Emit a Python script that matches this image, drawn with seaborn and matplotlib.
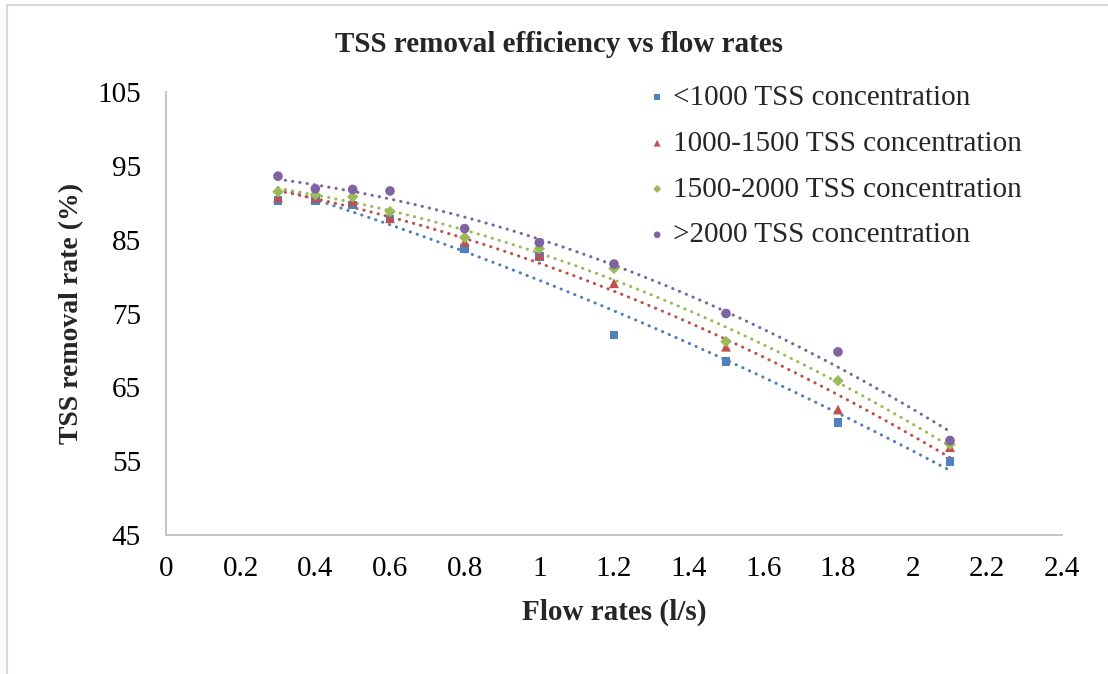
import numpy as np
import pandas as pd
import seaborn as sns
import matplotlib.pyplot as plt
from matplotlib.patches import Rectangle

# flow rate (l/s) and removal rate (%) per TSS concentration group
flow = [0.3, 0.4, 0.5, 0.6, 0.8, 1.0, 1.2, 1.5, 1.8, 2.1]
lt1000 = [90.3, 90.3, 89.7, 87.8, 83.8, 82.7, 72.1, 68.5, 60.2, 55.0]
c1000_1500 = [90.7, 90.7, 90.2, 87.9, 84.7, 82.9, 79.1, 70.5, 62.0, 56.9]
c1500_2000 = [91.5, 91.1, 90.8, 88.8, 85.3, 83.8, 81.1, 71.2, 65.9, 57.3]
gt2000 = [93.6, 91.9, 91.8, 91.6, 86.5, 84.6, 81.7, 75.0, 69.8, 57.8]

names = ["<1000 TSS concentration", "1000-1500 TSS concentration",
         "1500-2000 TSS concentration", ">2000 TSS concentration"]
series = [lt1000, c1000_1500, c1500_2000, gt2000]
colors = ["#4F81BD", "#C0504D", "#9BBB59", "#8064A2"]
markers = ["s", "^", "D", "o"]
sizes = [40, 50, 34, 48]

rows = []
for name, vals in zip(names, series):
    for f, v in zip(flow, vals):
        rows.append({"flow": f, "rate": v, "group": name})
df = pd.DataFrame(rows)

# 2nd order polynomial trendlines (like Excel)
trend_rows = []
xs = np.linspace(0.3, 2.1, 100)
for name, vals in zip(names, series):
    p = np.polyfit(flow, vals, 2)
    for xv in xs:
        trend_rows.append({"flow": xv, "rate": np.polyval(p, xv), "group": name})
trend = pd.DataFrame(trend_rows)

sns.set_theme(style="white")
plt.rcParams["font.family"] = ["Liberation Serif", "DejaVu Serif"]

fig = plt.figure(figsize=(11.08, 6.74), dpi=100)
ax = fig.add_axes([166 / 1108, 1 - 535 / 674, (1062 - 166) / 1108, (535 - 92) / 674])

for name, c in zip(names, colors):
    sub = trend[trend.group == name]
    sns.lineplot(data=sub, x="flow", y="rate", ax=ax, color=c, linewidth=2.2,
                 linestyle=(0, (0.1, 2.3)), dash_capstyle="round", legend=False,
                 sort=False, estimator=None)

for name, c, m, s in zip(names, colors, markers, sizes):
    sub = df[df.group == name]
    sns.scatterplot(data=sub, x="flow", y="rate", ax=ax, color=c, marker=m, s=s,
                    edgecolor="none", label=name, zorder=3)

ax.set_xlim(0, 2.4)
ax.set_ylim(45, 105)
ax.set_xticks(np.arange(0, 2.41, 0.2))
ax.set_xticklabels(["0", "0.2", "0.4", "0.6", "0.8", "1", "1.2", "1.4", "1.6",
                    "1.8", "2", "2.2", "2.4"])
ax.set_yticks(range(45, 106, 10))

for sp in ["top", "right"]:
    ax.spines[sp].set_visible(False)
for sp in ["left", "bottom"]:
    ax.spines[sp].set_color("#BFBFBF")
    ax.spines[sp].set_linewidth(1.3)
ax.tick_params(axis="both", direction="out", length=6, width=1.3, color="#BFBFBF",
               labelsize=21, labelcolor="black")
ax.tick_params(axis="y", pad=12)
ax.tick_params(axis="x", pad=9)

ax.set_xlabel("")
ax.set_ylabel("")
fig.text(614 / 1108, 1 - 612 / 674, "Flow rates (l/s)", ha="center", va="center",
         fontsize=21, fontweight="bold")
fig.text(72 / 1108, 1 - 313 / 674, "TSS removal rate (%)", ha="center", va="center",
         rotation=90, fontsize=20, fontweight="bold")
fig.text(559 / 1108, 1 - 45 / 674, "TSS removal efficiency vs flow rates", ha="center",
         va="center", fontsize=21, fontweight="bold")

leg = ax.legend(loc="upper left", bbox_to_anchor=(628 / 1108, 1 - 70 / 674),
                bbox_transform=fig.transFigure, frameon=False, fontsize=21,
                markerscale=0.7, handletextpad=0.05, labelspacing=0.665,
                handlelength=1.0, borderpad=0)

fig.patches.append(Rectangle((7 / 1108, -0.1), 1.2, 1.1 - 5 / 674, transform=fig.transFigure,
                             fill=False, edgecolor="#D9D9D9", linewidth=1.5))

fig.savefig("out.png", dpi=100)
